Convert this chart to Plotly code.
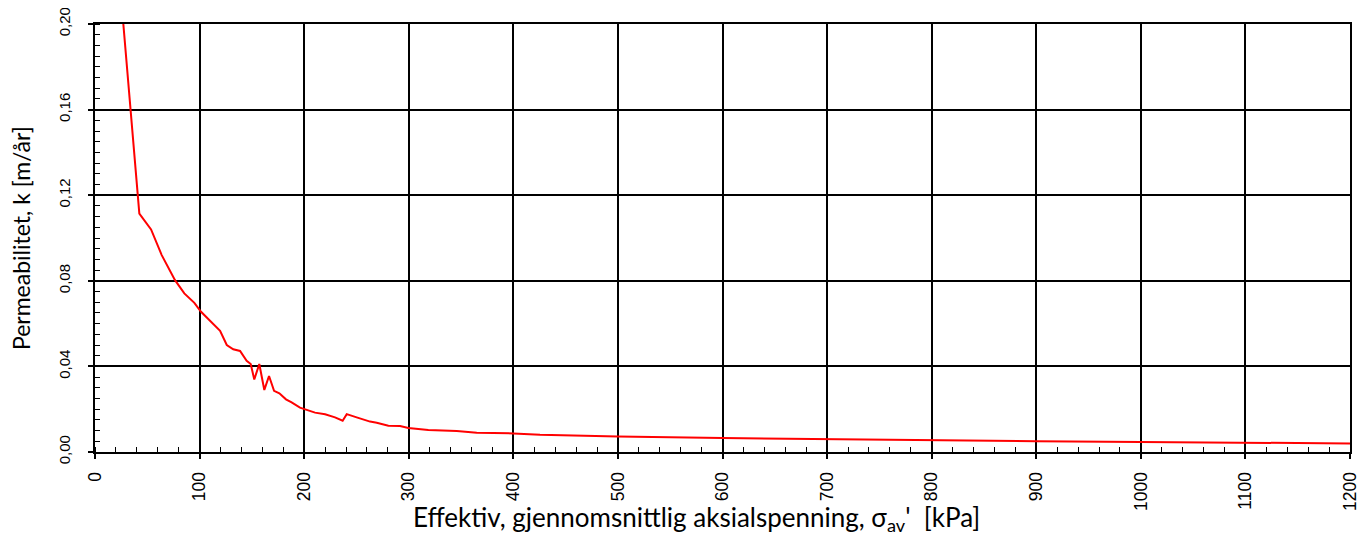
import plotly.graph_objects as go

# Effective mean axial stress [kPa]
stress = [24.5, 42.4, 53.6, 63.8, 76.5, 85.4, 95.0, 101.4, 119.6, 126.0, 132.2, 138.7,
          145.0, 148.9, 152.3, 157.1, 161.9, 166.4, 171.2, 176.3, 182.6, 188.0, 196.0,
          199.9, 210.4, 220.0, 229.5, 236.8, 240.7, 250.2, 263.0, 269.4, 280.5, 291.7,
          299.6, 318.7, 345.9, 365.0, 400.0, 425.5, 470.2, 499.8, 600.0, 700.0, 800.0,
          900.0, 1000.0, 1100.0, 1200.0]
# Permeability k [m/år]
perm = [0.215, 0.1114, 0.104, 0.092, 0.0803, 0.0741, 0.0697, 0.0655, 0.0566, 0.0500,
        0.0480, 0.0472, 0.0426, 0.0411, 0.0339, 0.0411, 0.0290, 0.0355, 0.0286, 0.0274,
        0.0246, 0.0232, 0.0207, 0.0201, 0.0184, 0.0176, 0.0162, 0.0146, 0.0177, 0.0162,
        0.0142, 0.0137, 0.0123, 0.0121, 0.0112, 0.0103, 0.0098, 0.0090, 0.0087, 0.0081,
        0.0078, 0.0073, 0.0065, 0.0059, 0.0055, 0.0050, 0.0047, 0.0043, 0.0040]

x_tickvals = list(range(0, 1201, 100))
y_tickvals = [0.0, 0.04, 0.08, 0.12, 0.16, 0.20]
x_title = "Effektiv, gjennomsnittlig aksialspenning, σ<sub>av</sub>'  [kPa]"
y_title = "Permeabilitet, k [m/år]"

fig = go.Figure()
fig.add_trace(go.Scatter(x=stress, y=perm, mode="lines",
                         line=dict(color="#ff0000", width=2), showlegend=False))

fig.update_layout(
    width=1364, height=530,
    margin=dict(l=87, r=22, t=16, b=86),
    paper_bgcolor="white", plot_bgcolor="white",
    separators=", ",
    font=dict(family="Liberation Sans, Arial", color="black"),
)

fig.update_xaxes(
    range=[0, 1200], tickvals=x_tickvals, tickangle=-90, automargin=False,
    tickfont=dict(family="Liberation Sans, Arial", size=17.5),
    ticklabelstandoff=6, ticklabeloverflow="allow",
    showgrid=True, gridcolor="black", gridwidth=2,
    showline=True, linecolor="black", linewidth=2, mirror=True,
    ticks="outside", ticklen=5, tickwidth=2, tickcolor="black",
    minor=dict(dtick=20, ticks="inside", ticklen=5, tickwidth=1, tickcolor="black", showgrid=False),
    zeroline=False,
)
fig.update_yaxes(
    range=[0, 0.2], tickvals=y_tickvals, tickformat=".2f", tickangle=-90, automargin=False,
    tickfont=dict(family="Liberation Sans, Arial", size=15),
    ticklabelstandoff=12, ticklabeloverflow="allow",
    showgrid=True, gridcolor="black", gridwidth=2,
    showline=True, linecolor="black", linewidth=2, mirror=True,
    ticks="outside", ticklen=5, tickwidth=2, tickcolor="black",
    minor=dict(dtick=0.005, ticks="inside", ticklen=5, tickwidth=1, tickcolor="black", showgrid=False),
    zeroline=False,
)

fig.add_annotation(text=x_title, xref="paper", yref="paper", x=0.479, y=-0.110,
                   xanchor="center", yanchor="top", showarrow=False,
                   font=dict(family="Lato, Open Sans", size=26, color="black"))
fig.add_annotation(text=y_title, xref="paper", yref="paper", x=-0.0462, y=0.5,
                   xanchor="right", yanchor="middle", textangle=-90, showarrow=False,
                   font=dict(family="Lato, Open Sans", size=23, color="black"))

fig.write_html("out.html")
